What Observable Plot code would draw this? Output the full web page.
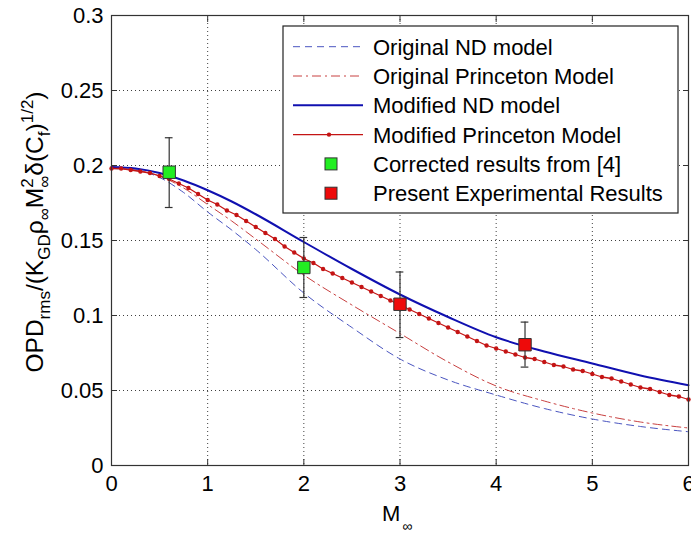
<!DOCTYPE html>
<html><head><meta charset="utf-8">
<script src="https://cdn.jsdelivr.net/npm/d3@7"></script>
<script src="https://cdn.jsdelivr.net/npm/@observablehq/plot@0.6"></script>
<style>
body{margin:0;background:#fff}
#chart{position:relative;width:691px;height:536px}
</style>
</head><body><div id="chart"></div>
<script>
// ---------- data ----------
const modelX = [0, 0.25, 0.5, 0.75, 1, 1.25, 1.5, 2, 2.5, 3, 3.5, 4, 4.5, 5, 5.5, 6];
const originalND        = [0.198, 0.197, 0.192, 0.182, 0.169, 0.157, 0.144, 0.115, 0.092, 0.071, 0.057, 0.047, 0.038, 0.031, 0.026, 0.0225];
const originalPrinceton = [0.198, 0.197, 0.193, 0.185, 0.174, 0.163, 0.151, 0.127, 0.107, 0.088, 0.069, 0.053, 0.043, 0.035, 0.029, 0.025];
const modifiedND        = [0.199, 0.198, 0.195, 0.190, 0.1835, 0.176, 0.1675, 0.149, 0.131, 0.114, 0.099, 0.0855, 0.076, 0.068, 0.060, 0.0535];

// Modified Princeton model, one marker every 0.1 in M
const princetonX = [0,0.1,0.2,0.3,0.4,0.5,0.6,0.7,0.8,0.9,1,1.1,1.2,1.3,1.4,1.5,1.6,1.7,1.8,1.9,2,2.1,2.2,2.3,2.4,2.5,2.6,2.7,2.8,2.9,3,3.1,3.2,3.3,3.4,3.5,3.6,3.7,3.8,3.9,4,4.1,4.2,4.3,4.4,4.5,4.6,4.7,4.8,4.9,5,5.1,5.2,5.3,5.4,5.5,5.6,5.7,5.8,5.9,6];
const modifiedPrinceton = [0.198,0.198,0.197,0.196,0.195,0.193,0.191,0.188,0.185,0.181,0.177,0.174,0.170,0.167,0.163,0.159,0.155,0.151,0.146,0.142,0.138,0.135,0.131,0.128,0.125,0.122,0.119,0.116,0.113,0.110,0.107,0.104,0.101,0.098,0.095,0.092,0.089,0.086,0.083,0.080,0.078,0.076,0.074,0.072,0.071,0.069,0.067,0.066,0.064,0.063,0.061,0.059,0.058,0.056,0.054,0.052,0.051,0.049,0.047,0.046,0.044];

// Experimental points: value, error-bar low, error-bar high
const correctedX = [0.6, 2.0];
const correctedY = [0.1955, 0.132];
const correctedLo = [0.172, 0.112];
const correctedHi = [0.2185, 0.152];
const presentX = [3.0, 4.3];
const presentY = [0.1075, 0.0805];
const presentLo = [0.0853, 0.0656];
const presentHi = [0.129, 0.0956];

const xTicks = [0, 1, 2, 3, 4, 5, 6];
const yTicks = [0, 0.05, 0.1, 0.15, 0.2, 0.25, 0.3];
const yTickLabels = ["0", "0.05", "0.1", "0.15", "0.2", "0.25", "0.3"];

const legendLabels = ["Original ND model", "Original Princeton Model", "Modified ND model",
  "Modified Princeton Model", "Corrected results from [4]", "Present Experimental Results"];

// ---------- build tables ----------
const series = (ys) => modelX.map((x, i) => ({x, y: ys[i]}));
const princeton = princetonX.map((x, i) => ({x, y: modifiedPrinceton[i]}));
const corrected = correctedX.map((x, i) => ({x, y: correctedY[i], lo: correctedLo[i], hi: correctedHi[i]}));
const present = presentX.map((x, i) => ({x, y: presentY[i], lo: presentLo[i], hi: presentHi[i]}));
const points = corrected.concat(present);

const C = {
  origND: "#4a55c0", origPr: "#c84040", modND: "#1010b0", modPr: "#c41414",
  green: "#22ee22", red: "#ee0a0a", edge: "#333"
};
const FONT = "'Liberation Sans', Arial, Helvetica, sans-serif";

const plot = Plot.plot({
  width: 691, height: 536,
  marginLeft: 111, marginRight: 3, marginTop: 15, marginBottom: 71,
  style: {fontFamily: FONT, fontSize: "22px", color: "#000", background: "#fff"},
  x: {domain: [0, 6]},
  y: {domain: [0, 0.3]},
  marks: [
    Plot.gridX(xTicks.slice(1, -1), {stroke: "#000", strokeOpacity: 0.75, strokeDasharray: "1,3"}),
    Plot.gridY(yTicks.slice(1, -1), {stroke: "#000", strokeOpacity: 0.75, strokeDasharray: "1,3"}),
    Plot.line(series(originalND), {x: "x", y: "y", stroke: C.origND, strokeWidth: 1, strokeDasharray: "7,5", curve: "monotone-x"}),
    Plot.line(series(originalPrinceton), {x: "x", y: "y", stroke: C.origPr, strokeWidth: 1, strokeDasharray: "9,4,2,4", curve: "monotone-x"}),
    Plot.line(series(modifiedND), {x: "x", y: "y", stroke: C.modND, strokeWidth: 2, curve: "monotone-x"}),
    Plot.line(princeton, {x: "x", y: "y", stroke: C.modPr, strokeWidth: 1.3}),
    Plot.dot(princeton, {x: "x", y: "y", r: 2.2, fill: C.modPr, stroke: "none"}),
    Plot.ruleX(points, {x: "x", y1: "lo", y2: "hi", stroke: "#333", strokeWidth: 1.2}),
    Plot.ruleY(points, {y: "lo", x1: d => d.x - 0.04, x2: d => d.x + 0.04, stroke: "#333", strokeWidth: 1.2}),
    Plot.ruleY(points, {y: "hi", x1: d => d.x - 0.04, x2: d => d.x + 0.04, stroke: "#333", strokeWidth: 1.2}),
    Plot.dot(corrected, {x: "x", y: "y", symbol: "square", r: 7, fill: C.green, stroke: C.edge, strokeWidth: 1}),
    Plot.dot(present, {x: "x", y: "y", symbol: "square", r: 7, fill: C.red, stroke: C.edge, strokeWidth: 1}),
    Plot.frame({stroke: "#333", strokeWidth: 1.2}),
    Plot.axisX({ticks: xTicks, tickSize: -6, tickPadding: 16, tickFormat: d => String(d), label: null, fontSize: 22, stroke: "#333"}),
    Plot.axisX({anchor: "top", ticks: xTicks, tickSize: -6, fill: "none", label: null, stroke: "#333"}),
    Plot.axisY({ticks: yTicks, tickSize: -6, tickPadding: 14, tickFormat: d => yTickLabels[yTicks.indexOf(d)], label: null, fontSize: 22, stroke: "#333"}),
    Plot.axisY({anchor: "right", ticks: yTicks, tickSize: -6, fill: "none", label: null, stroke: "#333"})
  ]
});
document.getElementById("chart").appendChild(plot);

// ---------- axis titles ----------
const svg = d3.select(plot);
const MAIN = 24.5, SMALL = 17;
const yl = svg.append("text")
  .attr("transform", "translate(43,232) rotate(-90)")
  .attr("text-anchor", "middle")
  .attr("font-family", FONT).attr("font-size", MAIN).attr("fill", "#000");
let shift = 0;
function part(txt, kind, extra = {}) {
  const target = kind === "sub" ? 7 : kind === "sup" ? -10 : 0;
  const t = yl.append("tspan").text(txt)
    .attr("dy", (extra.dy !== undefined ? extra.dy : target - shift))
    .attr("font-size", kind === "n" ? MAIN : SMALL);
  if (extra.dx !== undefined) t.attr("dx", extra.dx);
  shift = target;
}
part("OPD", "n"); part("rms", "sub"); part("/(K", "n"); part("GD", "sub");
part("ρ", "n"); part("∞", "sub"); part("M", "n"); part("2", "sup");
part("∞", "sub", {dx: -9.5, dy: 17}); part("δ(C", "n"); part("f", "sub");
part(")", "n"); part("1/2", "sup"); part(")", "n");

const xl = svg.append("text")
  .attr("x", 382).attr("y", 521).attr("text-anchor", "start")
  .attr("font-family", FONT).attr("font-size", 22).attr("fill", "#000");
xl.append("tspan").text("M");
xl.append("tspan").text("∞").attr("font-size", 14).attr("dx", 2).attr("dy", 10);

// ---------- legend (inside the axes, upper right) ----------
const lg = svg.append("g").attr("font-family", FONT).attr("font-size", 22).attr("text-anchor", "start");
lg.append("rect").attr("x", 283).attr("y", 26).attr("width", 395).attr("height", 187)
  .attr("fill", "#fff").attr("stroke", "#222").attr("stroke-width", 1.2);
const rowY = i => 46.7 + i * 29.3;
const styles = [
  {stroke: C.origND, w: 1, dash: "7,5"},
  {stroke: C.origPr, w: 1, dash: "9,4,2,4"},
  {stroke: C.modND, w: 2, dash: null},
  {stroke: C.modPr, w: 1.3, dash: null, dot: true},
  {marker: C.green},
  {marker: C.red}
];
legendLabels.forEach((lab, i) => {
  const s = styles[i], y = rowY(i);
  if (s.marker) {
    lg.append("rect").attr("x", 325).attr("y", y - 6).attr("width", 12).attr("height", 12)
      .attr("fill", s.marker).attr("stroke", C.edge);
  } else {
    const l = lg.append("line").attr("x1", 293).attr("x2", 363).attr("y1", y).attr("y2", y)
      .attr("stroke", s.stroke).attr("stroke-width", s.w);
    if (s.dash) l.attr("stroke-dasharray", s.dash);
    if (s.dot) lg.append("circle").attr("cx", 329).attr("cy", y).attr("r", 2.2).attr("fill", s.stroke);
  }
  lg.append("text").attr("x", 373).attr("y", y).attr("dy", "0.36em").attr("fill", "#000").attr("text-anchor", "start").text(lab);
});
</script>
</body></html>
